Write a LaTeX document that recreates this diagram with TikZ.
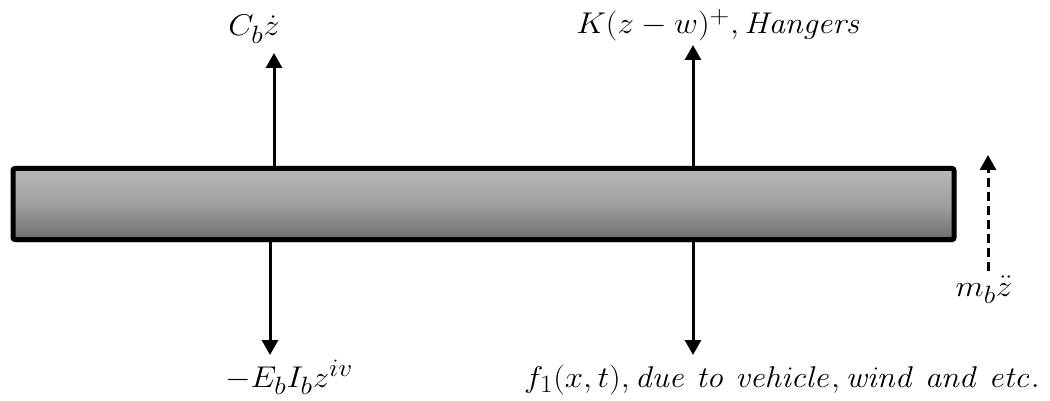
\documentclass[tikz,border=0pt]{standalone}
\usetikzlibrary{arrows.meta,shadows}
\newcommand{\wide}[1]{\scalebox{1.32}[1.206]{\Huge #1}}
\tikzset{
  beam/.style={draw=black, line width=5pt, rounded corners=2pt,
    top color={rgb,255:red,184;green,184;blue,184},
    bottom color={rgb,255:red,110;green,110;blue,110},
    middle color={rgb,255:red,160;green,160;blue,160},
    minimum width=941pt, minimum height=71pt, inner sep=0pt,
    drop shadow={shadow xshift=2pt, shadow yshift=-3pt, opacity=0.25}},
  force/.style={line width=3pt, -{Triangle[length=15pt,width=16pt]}},
  dforce/.style={force, dash pattern=on 9pt off 5pt},
  lab/.style={anchor=base, inner sep=0pt}
}
\begin{document}
\begin{tikzpicture}[x=1pt,y=-1pt]
\useasboundingbox (0,0) rectangle (1050,401);
\node[beam] (beam) at (483.5,204) {};
\coordinate (t1) at (274,53);
\coordinate (b1) at (270,355);
\coordinate (t2) at (693,45);
\coordinate (b2) at (693,355);
\coordinate (ms) at (988,271);
\coordinate (mt) at (988,155);
\draw[force] (beam.north -| t1) -- (t1);
\draw[force] (beam.south -| b1) -- (b1);
\draw[force] (beam.north -| t2) -- (t2);
\draw[force] (beam.south -| b2) -- (b2);
\draw[dforce] (ms) -- (mt);
\node[lab] (l1) at (254,36) {\wide{$C_b\dot z$}};
\node[lab] (l2) at (719,34) {\wide{$K(z-w)^{+}, \mathit{Hangers}$}};
\node[lab] (l3) at (289,387) {\wide{$-E_bI_bz^{iv}$}};
\node[lab] (l4) at (782,387) {\wide{$f_1(x,t), \mathit{due\ to\ vehicle, wind\ and\ etc.}$}};
\node[lab] (l5) at (984,296) {\wide{$m_b\ddot z$}};
\end{tikzpicture}
\end{document}
